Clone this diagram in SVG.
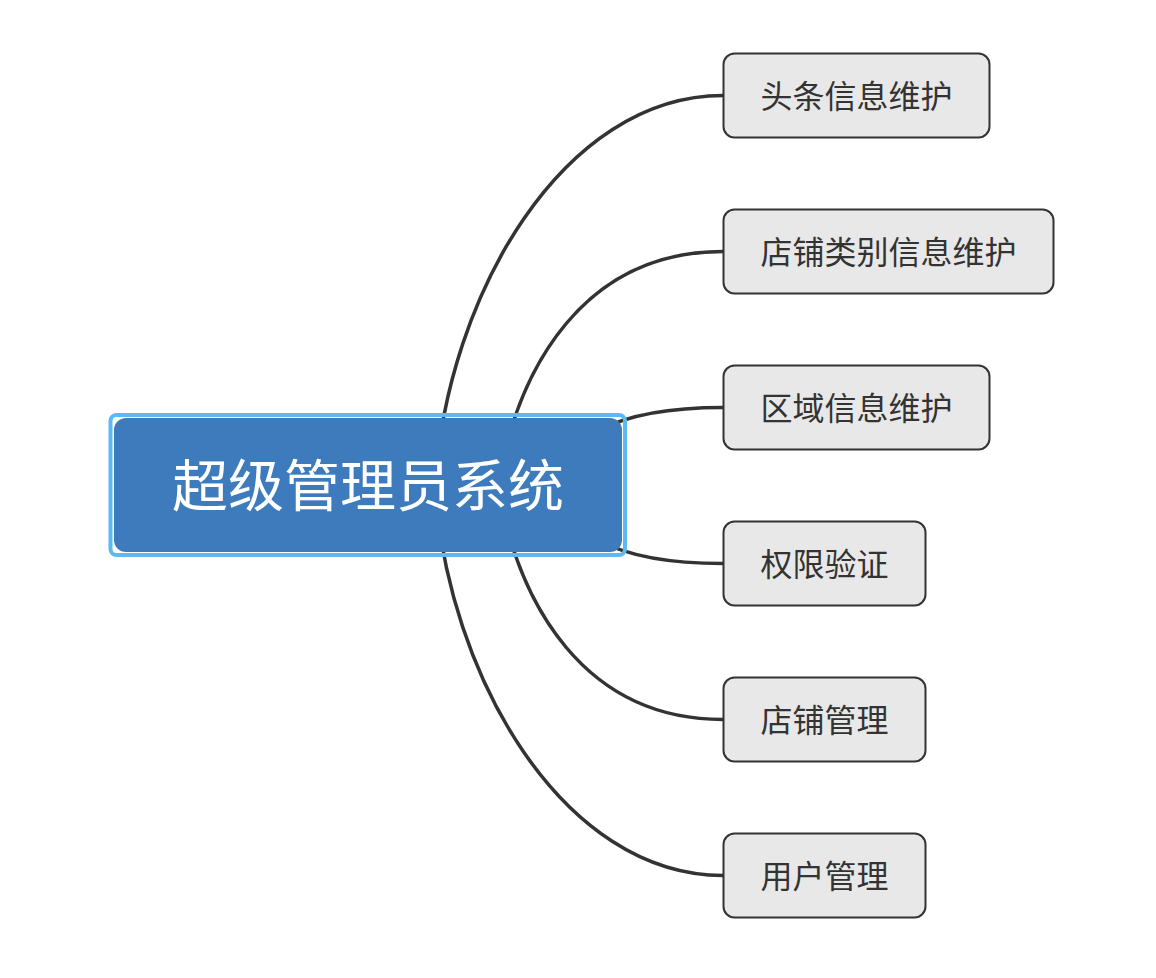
<svg xmlns="http://www.w3.org/2000/svg" width="1156" height="978" viewBox="0 0 1156 978">
  <style>
    .conn { fill: none; stroke: #333333; stroke-width: 3.5; stroke-linecap: round; }
    .leaf rect { fill: #e8e8e8; stroke: #333333; stroke-width: 2; }
    .leaf text { font-family: "Noto Sans CJK SC", "Noto Sans", sans-serif; font-size: 32px; fill: #333333; text-anchor: middle; }
    .root-sel { fill: none; stroke: #5bbaf5; stroke-width: 4; }
    .root-body { fill: #3e7bbd; }
    .root text { font-family: "Noto Sans CJK SC", "Noto Sans", sans-serif; font-size: 56px; fill: #ffffff; text-anchor: middle; }
  </style>
  <rect width="1156" height="978" fill="#ffffff"/>
  <g id="connectors">
    <path class="conn" d="M 435 485.5 C 447 295.5, 563 95.5, 723 95.5"/>
    <path class="conn" d="M 498 485.5 C 518 365.5, 585 251.5, 723 251.5"/>
    <path class="conn" d="M 600 430 C 630 414, 670 407.5, 723 407.5"/>
    <path class="conn" d="M 600 541 C 630 557, 670 563.5, 723 563.5"/>
    <path class="conn" d="M 498 485.5 C 518 605.5, 585 719.5, 723 719.5"/>
    <path class="conn" d="M 435 485.5 C 447 675.5, 563 875.5, 723 875.5"/>
  </g>
  <g id="root" class="root">
    <rect class="root-sel" x="110.5" y="415" width="514.5" height="140" rx="6"/>
    <rect class="root-body" x="114" y="418" width="508" height="134" rx="12"/>
    <text x="368" y="506">超级管理员系统</text>
  </g>
  <g id="node1" class="leaf">
    <rect x="723.5" y="53.5" width="266" height="84" rx="11"/>
    <text x="856.5" y="107.5">头条信息维护</text>
  </g>
  <g id="node2" class="leaf">
    <rect x="723.5" y="209.5" width="330" height="84" rx="11"/>
    <text x="888.5" y="263.5">店铺类别信息维护</text>
  </g>
  <g id="node3" class="leaf">
    <rect x="723.5" y="365.5" width="266" height="84" rx="11"/>
    <text x="856.5" y="419.5">区域信息维护</text>
  </g>
  <g id="node4" class="leaf">
    <rect x="723.5" y="521.5" width="202" height="84" rx="11"/>
    <text x="824.5" y="575.5">权限验证</text>
  </g>
  <g id="node5" class="leaf">
    <rect x="723.5" y="677.5" width="202" height="84" rx="11"/>
    <text x="824.5" y="731.5">店铺管理</text>
  </g>
  <g id="node6" class="leaf">
    <rect x="723.5" y="833.5" width="202" height="84" rx="11"/>
    <text x="824.5" y="887.5">用户管理</text>
  </g>
</svg>
